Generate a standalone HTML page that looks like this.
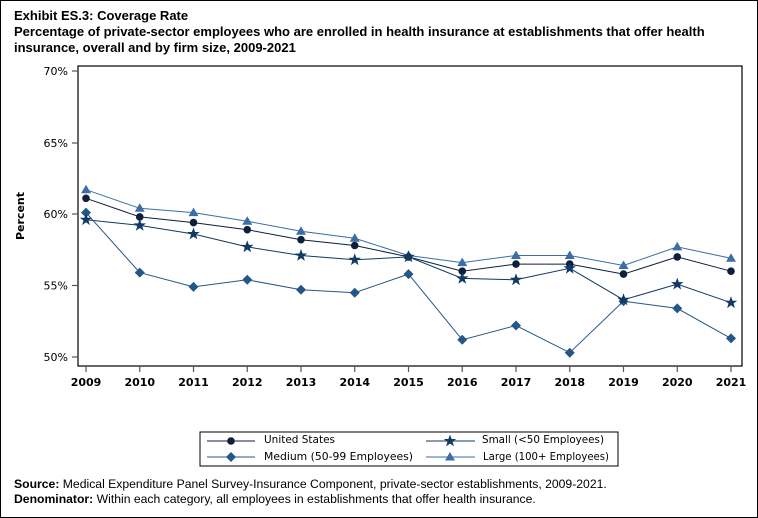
<!DOCTYPE html>
<html><head><style>
body{margin:0;width:758px;height:518px;background:#fff;font-family:"Liberation Sans","DejaVu Sans",sans-serif;overflow:hidden}
.frame{position:absolute;left:0;top:0;width:756px;height:516px;border:1px solid #000}
.t{position:absolute;left:14px;font-weight:bold;font-size:13px;color:#000;line-height:16px}
.f{position:absolute;left:14px;font-size:12.2px;line-height:16px}
</style></head><body>
<div class="frame"></div>
<div class="t" style="top:8px">Exhibit ES.3: Coverage Rate</div>
<div class="t" style="top:24px">Percentage of private-sector employees who are enrolled in health insurance at establishments that offer health<br>insurance, overall and by firm size, 2009-2021</div>
<svg width="758" height="518" style="position:absolute;left:0;top:0" font-family="DejaVu Sans, sans-serif">
<defs>
<circle id="c" r="3.8"/>
<path id="d" d="M0,-5 L5,0 L0,5 L-5,0Z"/>
<path id="s" d="M0,-6.5 L1.6,-2 L6.2,-2 L2.5,0.8 L3.9,5.4 L0,2.6 L-3.9,5.4 L-2.5,0.8 L-6.2,-2 L-1.6,-2Z"/>
<path id="tr" d="M0,-5 L5,3.5 L-5,3.5Z"/>
</defs>
<rect x="78" y="66" width="664" height="300" fill="none" stroke="#000" stroke-width="1.2"/>
<g stroke="#555" stroke-width="1.2">
<line x1="72" y1="71" x2="78" y2="71"/><line x1="72" y1="143" x2="78" y2="143"/><line x1="72" y1="214" x2="78" y2="214"/><line x1="72" y1="285.5" x2="78" y2="285.5"/><line x1="72" y1="357" x2="78" y2="357"/>
<line x1="86" y1="366" x2="86" y2="372"/><line x1="139.75" y1="366" x2="139.75" y2="372"/><line x1="193.5" y1="366" x2="193.5" y2="372"/><line x1="247.25" y1="366" x2="247.25" y2="372"/><line x1="301" y1="366" x2="301" y2="372"/><line x1="354.75" y1="366" x2="354.75" y2="372"/><line x1="408.5" y1="366" x2="408.5" y2="372"/><line x1="462.25" y1="366" x2="462.25" y2="372"/><line x1="516" y1="366" x2="516" y2="372"/><line x1="569.75" y1="366" x2="569.75" y2="372"/><line x1="623.5" y1="366" x2="623.5" y2="372"/><line x1="677.25" y1="366" x2="677.25" y2="372"/><line x1="731" y1="366" x2="731" y2="372"/>
</g>
<g font-size="11" text-anchor="end" fill="#000">
<text x="68" y="75">70%</text><text x="68" y="147">65%</text><text x="68" y="218">60%</text><text x="68" y="289.5">55%</text><text x="68" y="361">50%</text>
</g>
<g font-size="11" font-weight="bold" text-anchor="middle" fill="#000">
<text x="86" y="386">2009</text><text x="139.75" y="386">2010</text><text x="193.5" y="386">2011</text><text x="247.25" y="386">2012</text><text x="301" y="386">2013</text><text x="354.75" y="386">2014</text><text x="408.5" y="386">2015</text><text x="462.25" y="386">2016</text><text x="516" y="386">2017</text><text x="569.75" y="386">2018</text><text x="623.5" y="386">2019</text><text x="677.25" y="386">2020</text><text x="731" y="386">2021</text>
</g>
<text x="24" y="216" font-size="11" font-weight="bold" transform="rotate(-90 24 216)" text-anchor="middle">Percent</text>
<g fill="none" stroke-width="1">
<polyline stroke="#3a6ea5" points="86,189.7 139.75,208.3 193.5,212.6 247.25,221.2 301,231.2 354.75,238.3 408.5,255.5 462.25,262.6 516,255.5 569.75,255.5 623.5,265.5 677.25,246.9 731,258.3"/>
<polyline stroke="#0d1f3c" points="86,198.3 139.75,216.9 193.5,222.6 247.25,229.7 301,239.7 354.75,245.5 408.5,256.9 462.25,271.2 516,264.1 569.75,264.1 623.5,274.1 677.25,256.9 731,271.2"/>
<polyline stroke="#103a63" points="86,219.7 139.75,225.4 193.5,234 247.25,246.9 301,255.5 354.75,259.8 408.5,256.9 462.25,278.4 516,279.8 569.75,268.3 623.5,299.8 677.25,284.1 731,302.7"/>
<polyline stroke="#245788" points="86,212.6 139.75,272.6 193.5,286.9 247.25,279.8 301,289.8 354.75,292.7 408.5,274.1 462.25,339.8 516,325.5 569.75,352.7 623.5,301.2 677.25,308.4 731,338.4"/>
</g>
<g fill="#3a6ea5"><use href="#tr" x="86" y="189.7"/><use href="#tr" x="139.75" y="208.3"/><use href="#tr" x="193.5" y="212.6"/><use href="#tr" x="247.25" y="221.2"/><use href="#tr" x="301" y="231.2"/><use href="#tr" x="354.75" y="238.3"/><use href="#tr" x="408.5" y="255.5"/><use href="#tr" x="462.25" y="262.6"/><use href="#tr" x="516" y="255.5"/><use href="#tr" x="569.75" y="255.5"/><use href="#tr" x="623.5" y="265.5"/><use href="#tr" x="677.25" y="246.9"/><use href="#tr" x="731" y="258.3"/></g>
<g fill="#0d1f3c"><use href="#c" x="86" y="198.3"/><use href="#c" x="139.75" y="216.9"/><use href="#c" x="193.5" y="222.6"/><use href="#c" x="247.25" y="229.7"/><use href="#c" x="301" y="239.7"/><use href="#c" x="354.75" y="245.5"/><use href="#c" x="408.5" y="256.9"/><use href="#c" x="462.25" y="271.2"/><use href="#c" x="516" y="264.1"/><use href="#c" x="569.75" y="264.1"/><use href="#c" x="623.5" y="274.1"/><use href="#c" x="677.25" y="256.9"/><use href="#c" x="731" y="271.2"/></g>
<g fill="#245788"><use href="#d" x="86" y="212.6"/><use href="#d" x="139.75" y="272.6"/><use href="#d" x="193.5" y="286.9"/><use href="#d" x="247.25" y="279.8"/><use href="#d" x="301" y="289.8"/><use href="#d" x="354.75" y="292.7"/><use href="#d" x="408.5" y="274.1"/><use href="#d" x="462.25" y="339.8"/><use href="#d" x="516" y="325.5"/><use href="#d" x="569.75" y="352.7"/><use href="#d" x="623.5" y="301.2"/><use href="#d" x="677.25" y="308.4"/><use href="#d" x="731" y="338.4"/></g>
<g fill="#103a63"><use href="#s" x="86" y="219.7"/><use href="#s" x="139.75" y="225.4"/><use href="#s" x="193.5" y="234"/><use href="#s" x="247.25" y="246.9"/><use href="#s" x="301" y="255.5"/><use href="#s" x="354.75" y="259.8"/><use href="#s" x="408.5" y="256.9"/><use href="#s" x="462.25" y="278.4"/><use href="#s" x="516" y="279.8"/><use href="#s" x="569.75" y="268.3"/><use href="#s" x="623.5" y="299.8"/><use href="#s" x="677.25" y="284.1"/><use href="#s" x="731" y="302.7"/></g>
<rect x="200" y="432" width="418" height="34" fill="none" stroke="#000" stroke-width="1"/>
<line x1="207" y1="441" x2="255" y2="441" stroke="#0d1f3c"/><use href="#c" x="231" y="441" fill="#0d1f3c"/>
<line x1="207" y1="457" x2="255" y2="457" stroke="#245788"/><use href="#d" x="231" y="457" fill="#245788"/>
<line x1="426" y1="441" x2="475" y2="441" stroke="#103a63"/><use href="#s" x="450" y="441" fill="#103a63"/>
<line x1="426" y1="457" x2="475" y2="457" stroke="#3a6ea5"/><use href="#tr" x="450" y="457" fill="#3a6ea5"/>
<g font-size="11" fill="#000">
<text x="264" y="443" textLength="71" lengthAdjust="spacingAndGlyphs">United States</text><text x="264" y="460" textLength="149" lengthAdjust="spacingAndGlyphs">Medium (50-99 Employees)</text>
<text x="482" y="443" textLength="122" lengthAdjust="spacingAndGlyphs">Small (&lt;50 Employees)</text><text x="483" y="460" textLength="126" lengthAdjust="spacingAndGlyphs">Large (100+ Employees)</text>
</g>
</svg>
<div class="f" style="top:476px"><b>Source:</b> Medical Expenditure Panel Survey-Insurance Component, private-sector establishments, 2009-2021.</div>
<div class="f" style="top:491px"><b>Denominator:</b> Within each category, all employees in establishments that offer health insurance.</div>
</body></html>
